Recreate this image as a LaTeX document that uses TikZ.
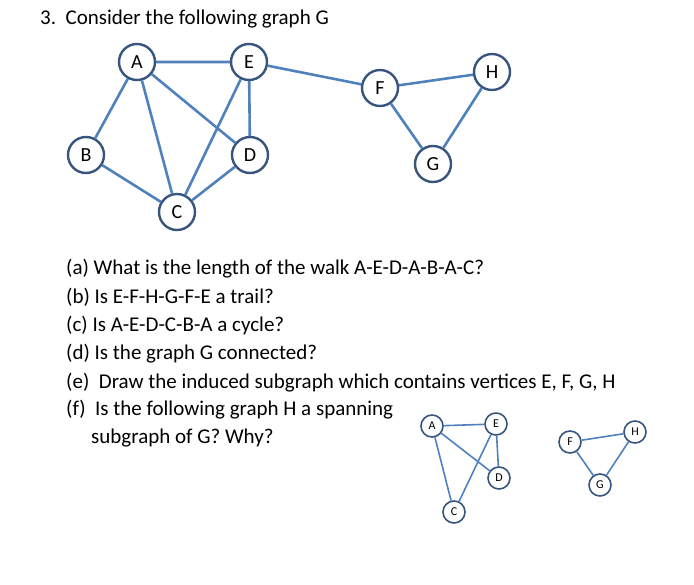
\documentclass[tikz,border=0pt]{standalone}
\usepackage{fontspec}
\setmainfont{Carlito}
\definecolor{edgeblue}{RGB}{79,129,189}
\definecolor{ringblue}{RGB}{56,85,125}
\begin{document}
\begin{tikzpicture}[x=1bp,y=-1bp,
  vbig/.style={circle,draw=ringblue,line width=2.4bp,fill=white,minimum size=36bp,inner sep=0pt,font=\fontsize{20bp}{24bp}\selectfont},
  vsmall/.style={circle,draw=ringblue,line width=1.6bp,fill=white,minimum size=22bp,inner sep=0pt,font=\fontsize{12bp}{14bp}\selectfont},
  eb/.style={draw=edgeblue,line width=2.6bp},
  es/.style={draw=edgeblue,line width=1.6bp},
  txt/.style={anchor=base west,inner sep=0pt,font=\fontsize{21bp}{25bp}\selectfont}]
\useasboundingbox (0,0) rectangle (694,585);
\node[txt] (t0) at (40,25) {3.\ \ Consider the following graph G};
\node[vbig] (A) at (137,62) {A};
\node[vbig] (E) at (249,62) {E};
\node[vbig] (F) at (380,88) {F};
\node[vbig] (H) at (492,72) {H};
\node[vbig] (B) at (86,155) {B};
\node[vbig] (D) at (250,155) {D};
\node[vbig] (G) at (433,164) {G};
\node[vbig] (C) at (177,212) {C};
\path[eb] (A)--(E) (A)--(B) (A)--(C) (A)--(D) (E)--(C) (E)--(D) (E)--(F) (B)--(C) (D)--(C) (F)--(H) (F)--(G) (G)--(H);
\node[txt] (ta) at (66,274) {(a) What is the length of the walk A-E-D-A-B-A-C?};
\node[txt] (tb) at (66,303) {(b) Is E-F-H-G-F-E a trail?};
\node[txt] (tc) at (66,331) {(c) Is A-E-D-C-B-A a cycle?};
\node[txt] (td) at (66,359) {(d) Is the graph G connected?};
\node[txt] (te) at (66,388) {(e)\ \ Draw the induced subgraph which contains vertices E, F, G, H};
\node[txt] (tf) at (66,415) {(f)\ \ Is the following graph H a spanning};
\node[txt] (tg) at (91,443) {subgraph of G? Why?};
\node[vsmall] (a) at (432,426) {A};
\node[vsmall] (e) at (496,424) {E};
\node[vsmall] (d) at (499,478) {D};
\node[vsmall] (c) at (454,512) {C};
\node[vsmall] (f) at (570,442) {F};
\node[vsmall] (h) at (635,432) {H};
\node[vsmall] (g) at (600,485) {G};
\path[es] (a)--(e) (a)--(c) (a)--(d) (e)--(c) (e)--(d) (f)--(h) (f)--(g) (g)--(h);
\end{tikzpicture}
\end{document}
